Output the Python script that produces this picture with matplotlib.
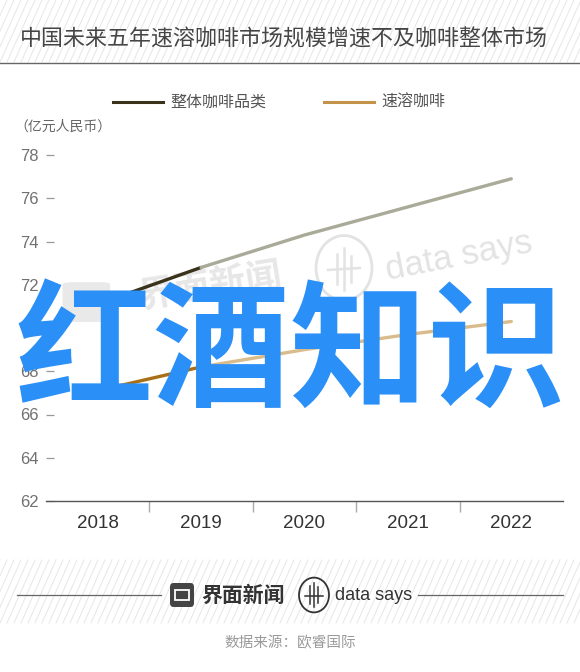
"""Instant coffee vs. total coffee market size in China, 2018-2022."""

import matplotlib

matplotlib.use("Agg")
import matplotlib.pyplot as plt
from matplotlib.lines import Line2D
from matplotlib.patches import Circle, FancyBboxPatch

plt.rcParams["font.family"] = ["Noto Sans CJK SC", "DejaVu Sans"]

YEARS = ["2018", "2019", "2020", "2021", "2022"]
TOTAL_COFFEE = [71.1, 72.8, 74.3, 75.6, 76.9]
INSTANT_COFFEE = [67.1, 68.2, 69.0, 69.7, 70.3]
Y_TICKS = [62, 64, 66, 68, 70, 72, 74, 76, 78]
SERIES_LABELS = ["整体咖啡品类", "速溶咖啡"]
TITLE = "中国未来五年速溶咖啡市场规模增速不及咖啡整体市场"
UNIT = "（亿元人民币）"
SOURCE = "数据来源：欧睿国际"
OVERLAY = "红酒知识"

W, H = 580, 672
LATIN = ["Liberation Sans", "DejaVu Sans"]


def fx(px):
    return px / W


def fy(py):
    return 1 - py / H


def hatch_band(fig, top, bottom, step=7, slant=28, color="#e6e6e6"):
    x = -slant
    while x < W + slant:
        fig.add_artist(Line2D([fx(x), fx(x + slant)], [fy(bottom), fy(top)],
                              color=color, lw=0.7, zorder=0))
        x += step


def main():
    fig = plt.figure(figsize=(W / 100, H / 100), dpi=100, facecolor="white")

    # header / footer bands
    hatch_band(fig, 0, 62)
    hatch_band(fig, 560, 623)
    fig.add_artist(Line2D([0, 1], [fy(63), fy(63)], color="#666666", lw=1.0))
    fig.text(fx(20), fy(40), TITLE, fontsize=15.8, color="#454545",
             ha="left", va="center")

    # legend
    legend_items = [(113, SERIES_LABELS[0], "#3a331c"), (324, SERIES_LABELS[1], "#c4934a")]
    for x0, label, color in legend_items:
        fig.add_artist(Line2D([fx(x0), fx(x0 + 50)], [fy(102), fy(102)], color=color, lw=2.2))
        fig.text(fx(x0 + 57), fy(102), label, fontsize=11.5, color="#555555",
                 ha="left", va="center")
    fig.text(fx(14), fy(127), UNIT, fontsize=10, color="#666666", ha="left", va="center")

    # chart
    ax = fig.add_axes([fx(46), fy(501), fx(563) - fx(46), fy(155) - fy(501)])
    ax.set_facecolor("none")
    x = list(range(len(YEARS)))

    # faint watermarks behind the data
    ax.add_patch(FancyBboxPatch((-0.32, 70.3), 0.42, 1.8,
                                boxstyle="round,pad=0.02,rounding_size=0.1",
                                fc="#e9e9e9", ec="none", zorder=0))
    ax.text(0.38, 71.9, "界面新闻", fontsize=26, weight="bold", color="#e7e7e7",
            rotation=9, ha="left", va="center", zorder=0)
    ax.text(3.49, 73.3, "data says", fontsize=25, color="#e3e3e3", rotation=11,
            ha="center", va="center", family=LATIN, zorder=0)

    ax.plot(x[:2], TOTAL_COFFEE[:2], color="#3a331c", lw=2.4, solid_capstyle="round", zorder=3)
    ax.plot(x[1:], TOTAL_COFFEE[1:], color="#a9aa97", lw=2.4, solid_capstyle="round", zorder=3)
    ax.plot(x[:2], INSTANT_COFFEE[:2], color="#a86f17", lw=2.4, solid_capstyle="round", zorder=3)
    ax.plot(x[1:], INSTANT_COFFEE[1:], color="#d9bb8c", lw=2.4, solid_capstyle="round", zorder=3)

    ax.set_xlim(-0.5, len(YEARS) - 0.5)
    ax.set_ylim(62, 78)
    ax.set_yticks(Y_TICKS)
    ax.set_yticklabels([str(v) for v in Y_TICKS], family=LATIN)
    ax.set_xticks(x)
    ax.set_xticklabels(YEARS, family=LATIN)
    ax.set_xticks([i + 0.5 for i in x[:-1]], minor=True)

    for side in ("top", "right", "left"):
        ax.spines[side].set_visible(False)
    ax.spines["bottom"].set_color("#555555")
    ax.spines["bottom"].set_linewidth(1.0)

    ax.tick_params(axis="y", direction="in", length=6, width=0.9, color="#999999",
                   labelcolor="#707070", labelsize=12, pad=5)
    ax.tick_params(axis="x", which="major", length=0, labelcolor="#333333",
                   labelsize=13.5, pad=10)
    ax.tick_params(axis="x", which="minor", direction="out", length=8, width=1.0,
                   color="#aaaaaa")

    # faint circle logo in plot
    fig.add_artist(Circle((fx(344), fy(268)), fx(28), transform=fig.transFigure,
                          fill=False, ec="#e3e3e3", lw=2.0, zorder=0))
    for dx, y0, y1 in [(-7, 254, 284), (0, 248, 290), (7, 256, 282)]:
        fig.add_artist(Line2D([fx(344 + dx)] * 2, [fy(y0), fy(y1)], color="#e3e3e3",
                              lw=1.8, zorder=0))
    fig.add_artist(Line2D([fx(328), fx(360)], [fy(270), fy(268)], color="#e3e3e3",
                          lw=1.8, zorder=0))

    # footer brand
    fig.add_artist(Line2D([fx(17), fx(161)], [fy(595), fy(595)], color="#666666", lw=0.9))
    fig.add_artist(Line2D([fx(418), fx(563)], [fy(595), fy(595)], color="#666666", lw=0.9))
    fig.add_artist(FancyBboxPatch((fx(170), fy(607)), fx(24), fy(583) - fy(607),
                                  boxstyle="round,pad=0,rounding_size=0.006",
                                  transform=fig.transFigure, fc="#444444", ec="none"))
    fig.add_artist(FancyBboxPatch((fx(175), fy(600)), fx(14), fy(590) - fy(600),
                                  boxstyle="square,pad=0", transform=fig.transFigure,
                                  fc="none", ec="white", lw=1.3))
    fig.text(fx(201), fy(595), "界面新闻", fontsize=15, weight="bold", color="#333333",
             ha="left", va="center")
    fig.add_artist(Circle((fx(314), fy(595)), fx(15), transform=fig.transFigure,
                          fill=False, ec="#333333", lw=1.3))
    for dx, y0, y1 in [(-4, 586, 604), (0, 583, 607), (4, 587, 603)]:
        fig.add_artist(Line2D([fx(314 + dx)] * 2, [fy(y0), fy(y1)], color="#333333", lw=1.1))
    fig.add_artist(Line2D([fx(305), fx(323)], [fy(596), fy(596)], color="#333333", lw=1.1))
    fig.text(fx(335), fy(595), "data says", fontsize=13, color="#333333",
             family=LATIN, ha="left", va="center")
    fig.text(fx(290), fy(643), SOURCE, fontsize=10.5, color="#9a9a9a", ha="center", va="center")

    # overlay text stamped across the chart
    fig.text(fx(290), fy(356), OVERLAY, fontsize=99, weight="bold", color="#2a8ff7",
             ha="center", va="center", zorder=10)

    fig.savefig("out.png", dpi=100, facecolor="white")
    plt.close(fig)


if __name__ == "__main__":
    main()
